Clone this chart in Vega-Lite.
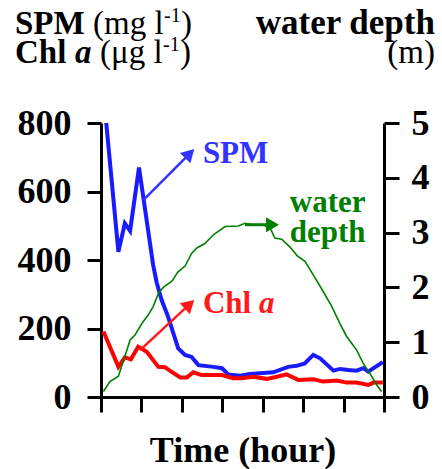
{
  "$schema": "https://vega.github.io/schema/vega-lite/v6.json",
  "width": 283,
  "height": 274,
  "autosize": {"type": "none"},
  "padding": {"left": 101, "top": 123, "right": 58, "bottom": 72},
  "background": "white",
  "config": {
    "view": {"stroke": null},
    "font": "Liberation Serif",
    "text": {"font": "Liberation Serif"},
    "axis": {
      "grid": false,
      "domainColor": "black",
      "domainWidth": 3,
      "tickColor": "black",
      "tickWidth": 3,
      "labelColor": "black",
      "labelFont": "Liberation Serif",
      "labelFontWeight": "bold",
      "labelFontSize": 36,
      "labelFlush": false,
      "labelOverlap": false,
      "labelBound": false,
      "titleColor": "black",
      "titleFont": "Liberation Serif"
    }
  },
  "datasets": {
    "spm": [
      {"hour": 0.05, "value": 900}, {"hour": 0.43, "value": 424}, {"hour": 0.59, "value": 507},
      {"hour": 0.72, "value": 485}, {"hour": 0.94, "value": 670}, {"hour": 1.29, "value": 385},
      {"hour": 1.38, "value": 333}, {"hour": 1.50, "value": 283}, {"hour": 1.66, "value": 234},
      {"hour": 1.79, "value": 186}, {"hour": 1.91, "value": 142}, {"hour": 2.08, "value": 123},
      {"hour": 2.24, "value": 117}, {"hour": 2.41, "value": 93}, {"hour": 2.78, "value": 88},
      {"hour": 2.99, "value": 84}, {"hour": 3.15, "value": 66}, {"hour": 3.44, "value": 62},
      {"hour": 3.68, "value": 67}, {"hour": 4.10, "value": 71}, {"hour": 4.26, "value": 72},
      {"hour": 4.63, "value": 88}, {"hour": 4.84, "value": 91}, {"hour": 5.04, "value": 98},
      {"hour": 5.25, "value": 123}, {"hour": 5.42, "value": 113}, {"hour": 5.75, "value": 77},
      {"hour": 5.91, "value": 82}, {"hour": 6.12, "value": 79}, {"hour": 6.32, "value": 77},
      {"hour": 6.49, "value": 84}, {"hour": 6.61, "value": 74}, {"hour": 6.97, "value": 102}
    ],
    "chl": [
      {"hour": 0.06, "value": 191}, {"hour": 0.43, "value": 88}, {"hour": 0.59, "value": 116},
      {"hour": 0.74, "value": 110}, {"hour": 0.92, "value": 147}, {"hour": 1.13, "value": 132},
      {"hour": 1.42, "value": 88}, {"hour": 1.58, "value": 87}, {"hour": 1.71, "value": 76},
      {"hour": 1.96, "value": 57}, {"hour": 2.12, "value": 57}, {"hour": 2.28, "value": 72},
      {"hour": 2.49, "value": 64}, {"hour": 2.99, "value": 64}, {"hour": 3.27, "value": 55},
      {"hour": 3.48, "value": 55}, {"hour": 3.77, "value": 59}, {"hour": 4.10, "value": 53},
      {"hour": 4.35, "value": 59}, {"hour": 4.59, "value": 66}, {"hour": 4.88, "value": 50},
      {"hour": 5.25, "value": 52}, {"hour": 5.50, "value": 45}, {"hour": 5.83, "value": 48},
      {"hour": 6.08, "value": 42}, {"hour": 6.32, "value": 42}, {"hour": 6.61, "value": 35},
      {"hour": 6.74, "value": 42}, {"hour": 6.97, "value": 42}
    ],
    "depth": [
      {"hour": 0.06, "depth": 0.10}, {"hour": 0.22, "depth": 0.28}, {"hour": 0.43, "depth": 0.38},
      {"hour": 0.59, "depth": 0.74}, {"hour": 0.72, "depth": 1.04}, {"hour": 0.84, "depth": 1.13},
      {"hour": 1.01, "depth": 1.34}, {"hour": 1.17, "depth": 1.50}, {"hour": 1.29, "depth": 1.65},
      {"hour": 1.42, "depth": 1.89}, {"hour": 1.54, "depth": 2.00}, {"hour": 1.76, "depth": 2.12},
      {"hour": 1.90, "depth": 2.28}, {"hour": 2.08, "depth": 2.39}, {"hour": 2.24, "depth": 2.62},
      {"hour": 2.37, "depth": 2.72}, {"hour": 2.57, "depth": 2.80}, {"hour": 2.78, "depth": 2.96},
      {"hour": 3.07, "depth": 3.11}, {"hour": 3.40, "depth": 3.12}, {"hour": 3.56, "depth": 3.17},
      {"hour": 3.77, "depth": 3.14}, {"hour": 4.01, "depth": 3.14}, {"hour": 4.18, "depth": 3.09},
      {"hour": 4.30, "depth": 2.90}, {"hour": 4.47, "depth": 2.88}, {"hour": 4.67, "depth": 2.74},
      {"hour": 4.85, "depth": 2.58}, {"hour": 5.05, "depth": 2.47}, {"hour": 5.25, "depth": 2.23},
      {"hour": 5.50, "depth": 1.92}, {"hour": 5.71, "depth": 1.65}, {"hour": 5.91, "depth": 1.34},
      {"hour": 6.08, "depth": 1.10}, {"hour": 6.32, "depth": 0.86}, {"hour": 6.49, "depth": 0.61},
      {"hour": 6.65, "depth": 0.43}, {"hour": 6.82, "depth": 0.22}, {"hour": 6.94, "depth": 0.10}
    ]
  },
  "layer": [
    {
      "layer": [
        {
          "data": {"name": "spm"},
          "mark": {"type": "line", "color": "#1a1aff", "strokeWidth": 4, "clip": true},
          "encoding": {
            "x": {
              "field": "hour", "type": "quantitative",
              "scale": {"domain": [0, 7], "nice": false, "zero": false},
              "axis": {
                "values": [0, 1, 2, 3, 4, 5, 6, 7],
                "labels": false,
                "tickSize": 15,
                "title": "Time (hour)",
                "titleFontSize": 36,
                "titleFontWeight": "bold",
                "titlePadding": 20
              }
            },
            "y": {
              "field": "value", "type": "quantitative",
              "scale": {"domain": [0, 800], "nice": false},
              "axis": {
                "orient": "left",
                "values": [0, 200, 400, 600, 800],
                "tickSize": 14,
                "labelPadding": 16,
                "title": null
              }
            }
          }
        },
        {
          "data": {"name": "chl"},
          "mark": {"type": "line", "color": "#ff0000", "strokeWidth": 4, "clip": true},
          "encoding": {
            "x": {"field": "hour", "type": "quantitative"},
            "y": {"field": "value", "type": "quantitative"}
          }
        },
        {
          "data": {"values": [{}]},
          "mark": {"type": "rule", "color": "#3333ff", "strokeWidth": 2.5},
          "encoding": {
            "x": {"datum": 1.046, "type": "quantitative"},
            "y": {"datum": 575, "type": "quantitative"},
            "x2": {"datum": 2.194},
            "y2": {"datum": 710.7}
          }
        },
        {
          "data": {"values": [{}]},
          "mark": {"type": "point", "shape": "triangle-right", "filled": true, "opacity": 1, "size": 220, "angle": -45, "color": "#3333ff"},
          "encoding": {
            "x": {"datum": 2.194, "type": "quantitative"},
            "y": {"datum": 710.7, "type": "quantitative"}
          }
        },
        {
          "data": {"values": [{}]},
          "mark": {"type": "rule", "color": "#ff1a1a", "strokeWidth": 2.5},
          "encoding": {
            "x": {"datum": 0.965, "type": "quantitative"},
            "y": {"datum": 137, "type": "quantitative"},
            "x2": {"datum": 2.189},
            "y2": {"datum": 270.4}
          }
        },
        {
          "data": {"values": [{}]},
          "mark": {"type": "point", "shape": "triangle-right", "filled": true, "opacity": 1, "size": 220, "angle": -43, "color": "#ff1a1a"},
          "encoding": {
            "x": {"datum": 2.189, "type": "quantitative"},
            "y": {"datum": 270.4, "type": "quantitative"}
          }
        },
        {
          "data": {"values": [{}]},
          "mark": {"type": "rule", "color": "#008000", "strokeWidth": 3},
          "encoding": {
            "x": {"datum": 3.562, "type": "quantitative"},
            "y": {"datum": 503, "type": "quantitative"},
            "x2": {"datum": 4.242},
            "y2": {"datum": 503}
          }
        },
        {
          "data": {"values": [{}]},
          "mark": {"type": "point", "shape": "triangle-right", "filled": true, "opacity": 1, "size": 220, "angle": 0, "color": "#008000"},
          "encoding": {
            "x": {"datum": 4.242, "type": "quantitative"},
            "y": {"datum": 503, "type": "quantitative"}
          }
        },
        {
          "data": {"values": [{}]},
          "mark": {"type": "text", "text": "SPM", "font": "Liberation Serif", "fontSize": 31, "fontWeight": "bold", "color": "#3333ff", "align": "left", "baseline": "alphabetic"},
          "encoding": {
            "x": {"datum": 2.52, "type": "quantitative"},
            "y": {"datum": 683, "type": "quantitative"}
          }
        },
        {
          "data": {"values": [{}]},
          "mark": {"type": "text", "text": "water", "font": "Liberation Serif", "fontSize": 31, "fontWeight": "bold", "color": "#008000", "align": "left", "baseline": "alphabetic"},
          "encoding": {
            "x": {"datum": 4.67, "type": "quantitative"},
            "y": {"datum": 541, "type": "quantitative"}
          }
        },
        {
          "data": {"values": [{}]},
          "mark": {"type": "text", "text": "depth", "font": "Liberation Serif", "fontSize": 31, "fontWeight": "bold", "color": "#008000", "align": "left", "baseline": "alphabetic"},
          "encoding": {
            "x": {"datum": 4.67, "type": "quantitative"},
            "y": {"datum": 454, "type": "quantitative"}
          }
        },
        {
          "data": {"values": [{}]},
          "mark": {"type": "text", "text": "Chl", "font": "Liberation Serif", "fontSize": 31, "fontWeight": "bold", "color": "#ff1a1a", "align": "left", "baseline": "alphabetic"},
          "encoding": {
            "x": {"datum": 2.52, "type": "quantitative"},
            "y": {"datum": 245, "type": "quantitative"}
          }
        },
        {
          "data": {"values": [{}]},
          "mark": {"type": "text", "text": "a", "font": "Liberation Serif", "fontSize": 31, "fontWeight": "bold", "fontStyle": "italic", "color": "#ff1a1a", "align": "left", "baseline": "alphabetic", "dx": 56},
          "encoding": {
            "x": {"datum": 2.52, "type": "quantitative"},
            "y": {"datum": 245, "type": "quantitative"}
          }
        },
        {
          "data": {"values": [{}]},
          "mark": {"type": "text", "text": "SPM", "font": "Liberation Serif", "fontSize": 33, "fontWeight": "bold", "color": "black", "align": "left", "baseline": "alphabetic"},
          "encoding": {
            "x": {"datum": -2.127, "type": "quantitative"},
            "y": {"datum": 1060, "type": "quantitative"}
          }
        },
        {
          "data": {"values": [{}]},
          "mark": {"type": "text", "text": "(mg l", "font": "Liberation Serif", "fontSize": 33, "color": "black", "align": "left", "baseline": "alphabetic", "dx": 78},
          "encoding": {
            "x": {"datum": -2.127, "type": "quantitative"},
            "y": {"datum": 1060, "type": "quantitative"}
          }
        },
        {
          "data": {"values": [{}]},
          "mark": {"type": "text", "text": "-1", "font": "Liberation Serif", "fontSize": 20, "color": "black", "align": "left", "baseline": "alphabetic", "dx": 149, "dy": -12},
          "encoding": {
            "x": {"datum": -2.127, "type": "quantitative"},
            "y": {"datum": 1060, "type": "quantitative"}
          }
        },
        {
          "data": {"values": [{}]},
          "mark": {"type": "text", "text": ")", "font": "Liberation Serif", "fontSize": 33, "color": "black", "align": "left", "baseline": "alphabetic", "dx": 166},
          "encoding": {
            "x": {"datum": -2.127, "type": "quantitative"},
            "y": {"datum": 1060, "type": "quantitative"}
          }
        },
        {
          "data": {"values": [{}]},
          "mark": {"type": "text", "text": "Chl", "font": "Liberation Serif", "fontSize": 33, "fontWeight": "bold", "color": "black", "align": "left", "baseline": "alphabetic"},
          "encoding": {
            "x": {"datum": -2.127, "type": "quantitative"},
            "y": {"datum": 975, "type": "quantitative"}
          }
        },
        {
          "data": {"values": [{}]},
          "mark": {"type": "text", "text": "a", "font": "Liberation Serif", "fontSize": 33, "fontWeight": "bold", "fontStyle": "italic", "color": "black", "align": "left", "baseline": "alphabetic", "dx": 60},
          "encoding": {
            "x": {"datum": -2.127, "type": "quantitative"},
            "y": {"datum": 975, "type": "quantitative"}
          }
        },
        {
          "data": {"values": [{}]},
          "mark": {"type": "text", "text": "(μg l", "font": "Liberation Serif", "fontSize": 33, "color": "black", "align": "left", "baseline": "alphabetic", "dx": 85},
          "encoding": {
            "x": {"datum": -2.127, "type": "quantitative"},
            "y": {"datum": 975, "type": "quantitative"}
          }
        },
        {
          "data": {"values": [{}]},
          "mark": {"type": "text", "text": "-1", "font": "Liberation Serif", "fontSize": 20, "color": "black", "align": "left", "baseline": "alphabetic", "dx": 148, "dy": -12},
          "encoding": {
            "x": {"datum": -2.127, "type": "quantitative"},
            "y": {"datum": 975, "type": "quantitative"}
          }
        },
        {
          "data": {"values": [{}]},
          "mark": {"type": "text", "text": ")", "font": "Liberation Serif", "fontSize": 33, "color": "black", "align": "left", "baseline": "alphabetic", "dx": 165},
          "encoding": {
            "x": {"datum": -2.127, "type": "quantitative"},
            "y": {"datum": 975, "type": "quantitative"}
          }
        },
        {
          "data": {"values": [{}]},
          "mark": {"type": "text", "text": "water depth", "font": "Liberation Serif", "fontSize": 35, "fontWeight": "bold", "color": "black", "align": "right", "baseline": "alphabetic"},
          "encoding": {
            "x": {"datum": 8.26, "type": "quantitative"},
            "y": {"datum": 1060, "type": "quantitative"}
          }
        },
        {
          "data": {"values": [{}]},
          "mark": {"type": "text", "text": "(m)", "font": "Liberation Serif", "fontSize": 33, "color": "black", "align": "right", "baseline": "alphabetic"},
          "encoding": {
            "x": {"datum": 8.26, "type": "quantitative"},
            "y": {"datum": 975, "type": "quantitative"}
          }
        }
      ]
    },
    {
      "data": {"name": "depth"},
      "mark": {"type": "line", "color": "#008000", "strokeWidth": 1.6, "clip": true},
      "encoding": {
        "x": {"field": "hour", "type": "quantitative"},
        "y": {
          "field": "depth", "type": "quantitative",
          "scale": {"domain": [0, 5], "nice": false},
          "axis": {
            "orient": "right",
            "values": [0, 1, 2, 3, 4, 5],
            "tickSize": 15,
            "labelPadding": 12,
            "title": null
          }
        }
      }
    }
  ],
  "resolve": {"scale": {"y": "independent"}}
}
